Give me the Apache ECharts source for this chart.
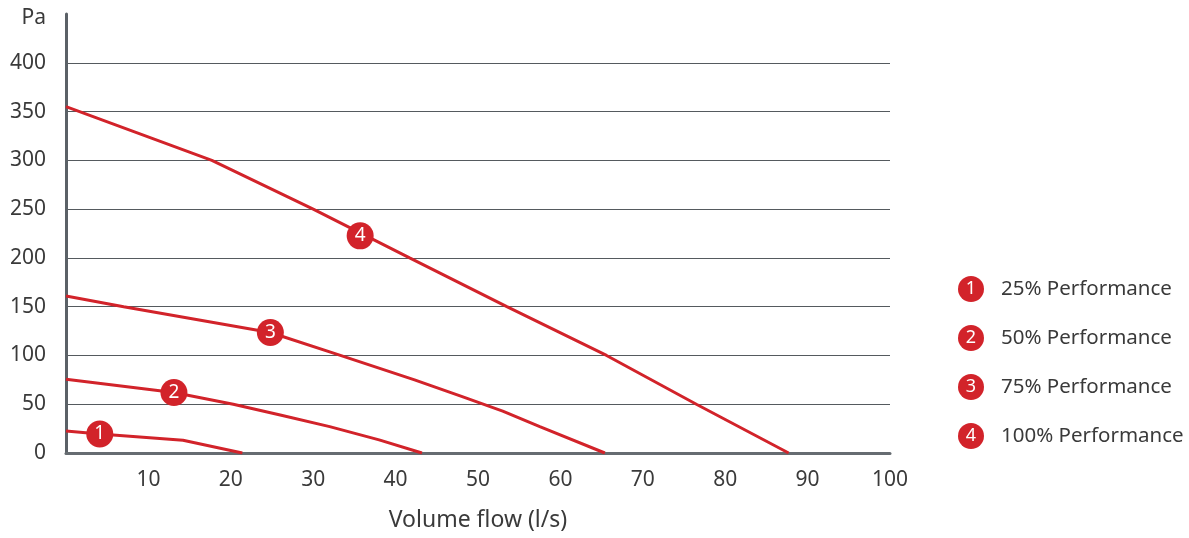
<!DOCTYPE html>
<html>
<head>
<meta charset="utf-8">
<script src="https://cdn.jsdelivr.net/npm/echarts@6/dist/echarts.min.js"></script>
<style>
  html, body { margin: 0; padding: 0; background: #fff; }
  #chart { width: 1189px; height: 538px; }
</style>
</head>
<body>
<div id="chart"></div>
<script>
// curve names (legend) and the number shown in the red dots
const names = ["25% Performance", "50% Performance", "75% Performance", "100% Performance"];
const badges = ["1", "2", "3", "4"];

// [volume flow l/s, pressure Pa]
const perf25 = [[0, 22.5], [4.1, 19.5], [14.2, 13], [21.4, 0]];
const perf50 = [[0, 75.5], [13.1, 62], [20.3, 50], [26, 39], [32, 27], [38, 13.5], [43.2, 0]];
const perf75 = [[0, 161], [7, 150], [24.8, 123.5], [33.3, 100], [42.3, 75], [48, 58], [53, 43], [57.5, 27], [65.4, 0]];
const perf100 = [[0, 355], [17.7, 300], [30, 250], [41.7, 200], [53.5, 150], [65.6, 100], [76.5, 50], [87.7, 0]];

// where the numbered dots sit on each curve
const badgeAt = [[4.1, 19.5], [13.1, 62], [24.8, 123.5], [35.7, 222.6]];

const xTicks = { min: 0, max: 100, step: 10 };
const yTicks = { min: 0, max: 450, step: 50 };

const red = "#d2232a";
const textColor = "#3a3a3a";
const font = "Noto Sans";

var chart = echarts.init(document.getElementById("chart"));

const curves = [perf25, perf50, perf75, perf100];
const series = curves.map(function (data, i) {
  return {
    name: names[i],
    type: "line",
    data: data,
    symbol: "none",
    color: red,
    lineStyle: { color: red, width: 3 },
    markPoint: {
      symbol: "circle",
      symbolSize: 27,
      itemStyle: { color: red },
      label: { color: "#fff", fontSize: 19, fontFamily: font, formatter: badges[i] },
      data: [{ coord: badgeAt[i], value: badges[i] }],
    },
  };
});

var option = {
  animation: false,
  textStyle: { fontFamily: font },
  grid: { left: 66, right: 299, top: 14, bottom: 85 },
  legend: {
    orient: "vertical",
    left: 947,
    top: 271,
    itemWidth: 0,
    itemHeight: 0,
    itemGap: 23,
    selectedMode: false,
    data: names,
    formatter: function (name) {
      return "{n|" + badges[names.indexOf(name)] + "}{t|" + name + "}";
    },
    textStyle: {
      rich: {
        n: {
          width: 26, height: 26, lineHeight: 26, borderRadius: 13,
          backgroundColor: red, color: "#fff", align: "center",
          fontSize: 18, fontFamily: font,
        },
        t: { fontSize: 20.5, color: textColor, fontFamily: font, padding: [0, 0, 0, 17] },
      },
    },
  },
  xAxis: {
    type: "value",
    min: xTicks.min,
    max: xTicks.max,
    interval: xTicks.step,
    name: "Volume flow (l/s)",
    nameLocation: "middle",
    nameGap: 56,
    nameTextStyle: { fontSize: 23, color: textColor, fontFamily: font },
    axisLine: { show: true, lineStyle: { color: "#666c71", width: 3 } },
    axisTick: { show: false },
    splitLine: { show: false },
    axisLabel: {
      fontSize: 21, color: textColor, margin: 17,
      formatter: function (v) { return v === 0 ? "" : v; },
    },
  },
  yAxis: {
    type: "value",
    min: yTicks.min,
    max: yTicks.max,
    interval: yTicks.step,
    axisLine: { show: true, lineStyle: { color: "#5b6167", width: 3 } },
    axisTick: { show: false },
    splitLine: { show: true, showMinLine: false, showMaxLine: false, lineStyle: { color: "#555a5e", width: 1 } },
    axisLabel: {
      fontSize: 21, color: textColor, margin: 20,
      formatter: function (v) { return v === 450 ? "{pa|Pa}" : v; },
      rich: { pa: { fontSize: 21, color: textColor, fontFamily: font, padding: [8, 0, 0, 0] } },
    },
  },
  series: series,
};

option && chart.setOption(option);
</script>
</body>
</html>
